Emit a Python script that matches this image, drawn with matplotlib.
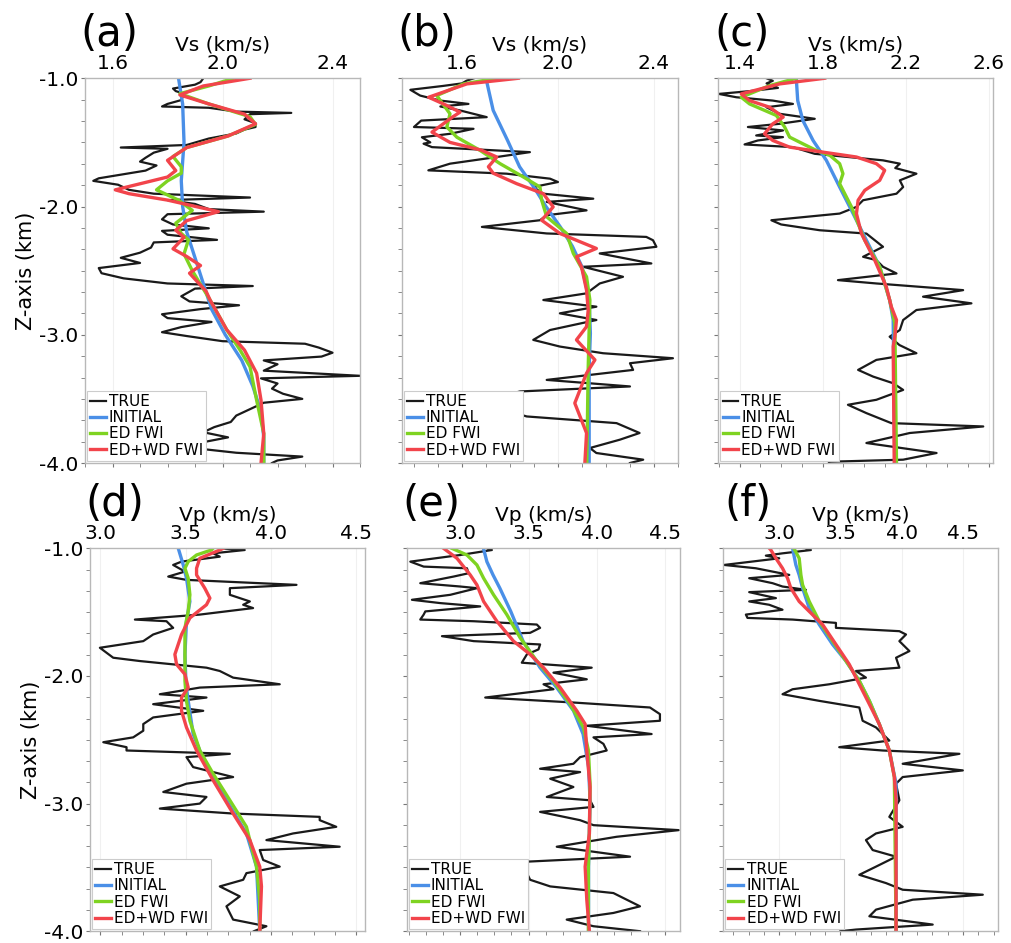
import matplotlib
matplotlib.use('Agg')
import matplotlib.pyplot as plt
from matplotlib.ticker import MultipleLocator, FormatStrFormatter

# (depth km, velocity km/s)
A_TRUE = [(-1.00, 1.93), (-1.03, 1.92), (-1.05, 1.90), (-1.08, 1.82), (-1.10, 1.83), (-1.12, 1.86), (-1.17, 1.85),
          (-1.20, 1.80), (-1.22, 1.78), (-1.23, 1.95), (-1.26, 2.05), (-1.27, 2.25), (-1.28, 2.10), (-1.32, 2.08),
          (-1.35, 2.12), (-1.38, 2.12), (-1.40, 2.08), (-1.43, 2.05), (-1.47, 1.95), (-1.52, 1.87), (-1.54, 1.63),
          (-1.55, 1.80), (-1.58, 1.75), (-1.62, 1.72), (-1.65, 1.70), (-1.68, 1.76), (-1.72, 1.72), (-1.78, 1.55),
          (-1.80, 1.53), (-1.83, 1.62), (-1.87, 1.66), (-1.90, 1.75), (-1.93, 2.10), (-1.95, 1.80), (-1.98, 1.90),
          (-2.02, 1.95), (-2.04, 2.15), (-2.06, 1.80), (-2.10, 1.78), (-2.14, 1.82), (-2.17, 1.95), (-2.19, 1.78),
          (-2.22, 1.80), (-2.26, 1.98), (-2.28, 1.75), (-2.32, 1.74), (-2.36, 1.70), (-2.40, 1.63), (-2.44, 1.70),
          (-2.48, 1.55), (-2.52, 1.56), (-2.56, 1.64), (-2.60, 1.80), (-2.62, 2.11), (-2.64, 1.90), (-2.70, 1.85),
          (-2.74, 1.88), (-2.77, 2.06), (-2.80, 1.92), (-2.84, 1.78), (-2.87, 1.80), (-2.90, 1.96), (-2.94, 1.85),
          (-2.98, 1.78), (-3.01, 1.87), (-3.05, 2.00), (-3.07, 2.30), (-3.10, 2.35), (-3.14, 2.40), (-3.17, 2.36),
          (-3.20, 2.15), (-3.23, 2.20), (-3.28, 2.15), (-3.32, 2.50), (-3.34, 2.14), (-3.38, 2.20), (-3.42, 2.18),
          (-3.46, 2.22), (-3.50, 2.29), (-3.53, 2.15), (-3.58, 2.10), (-3.63, 2.05), (-3.68, 2.03), (-3.72, 1.97),
          (-3.76, 1.93), (-3.80, 2.02), (-3.85, 1.90), (-3.88, 1.88), (-3.92, 2.05), (-3.95, 2.29), (-3.98, 2.20),
          (-4.00, 2.18)]
A_INIT = [(-1.0, 1.84), (-1.2, 1.855), (-1.5, 1.86), (-1.8, 1.85), (-2.0, 1.855), (-2.2, 1.87), (-2.4, 1.90),
          (-2.6, 1.93), (-2.8, 1.96), (-3.0, 2.01), (-3.2, 2.07), (-3.4, 2.11), (-3.6, 2.14), (-3.8, 2.15), (-4.0, 2.15)]
A_ED = [(-1.0, 2.04), (-1.06, 1.95), (-1.12, 1.845), (-1.20, 1.95), (-1.30, 2.10), (-1.36, 2.12), (-1.45, 2.02),
        (-1.54, 1.87), (-1.61, 1.82), (-1.69, 1.85), (-1.74, 1.85), (-1.80, 1.80), (-1.87, 1.76), (-1.95, 1.84),
        (-2.03, 1.89), (-2.13, 1.83), (-2.21, 1.85), (-2.26, 1.876), (-2.37, 1.86), (-2.50, 1.89), (-2.60, 1.918),
        (-2.73, 1.955), (-2.96, 2.015), (-3.12, 2.064), (-3.25, 2.10), (-3.51, 2.124), (-3.77, 2.15), (-4.0, 2.15)]
A_EDWD = [(-1.0, 2.10), (-1.06, 1.93), (-1.13, 1.845), (-1.20, 1.95), (-1.28, 2.08), (-1.355, 2.12), (-1.45, 2.02),
          (-1.54, 1.87), (-1.64, 1.80), (-1.72, 1.83), (-1.77, 1.80), (-1.87, 1.61), (-1.90, 1.66), (-1.95, 1.80),
          (-2.04, 1.985), (-2.11, 1.87), (-2.185, 1.83), (-2.24, 1.86), (-2.33, 1.82), (-2.39, 1.87), (-2.46, 1.92),
          (-2.52, 1.88), (-2.66, 1.94), (-2.73, 1.955), (-2.96, 2.015), (-3.12, 2.08), (-3.30, 2.124), (-3.51, 2.14),
          (-3.77, 2.15), (-4.0, 2.14)]

B_TRUE = [(-1.00, 1.65), (-1.018, 1.62), (-1.04, 1.60), (-1.06, 1.52), (-1.09, 1.385), (-1.135, 1.426), (-1.174, 1.51),
          (-1.20, 1.627), (-1.22, 1.51), (-1.25, 1.59), (-1.303, 1.703), (-1.33, 1.43), (-1.38, 1.40), (-1.394, 1.648),
          (-1.433, 1.55), (-1.46, 1.433), (-1.50, 1.468), (-1.51, 1.44), (-1.537, 1.475), (-1.576, 1.883),
          (-1.614, 1.745), (-1.666, 1.55), (-1.718, 1.46), (-1.744, 1.786), (-1.783, 1.967), (-1.809, 2.00),
          (-1.848, 1.897), (-1.90, 1.939), (-1.939, 2.147), (-1.964, 1.953), (-2.03, 2.119), (-2.068, 1.953),
          (-2.107, 1.925), (-2.159, 1.683), (-2.21, 1.953), (-2.237, 2.368), (-2.263, 2.396), (-2.314, 2.41),
          (-2.366, 2.174), (-2.444, 2.389), (-2.47, 2.105), (-2.548, 2.271), (-2.60, 2.174), (-2.677, 2.119),
          (-2.729, 1.939), (-2.781, 2.16), (-2.833, 2.008), (-2.885, 2.16), (-2.963, 1.967), (-3.04, 1.897),
          (-3.092, 2.008), (-3.144, 2.188), (-3.183, 2.479), (-3.222, 2.30), (-3.274, 2.313), (-3.352, 1.953),
          (-3.403, 2.30), (-3.442, 1.842), (-3.481, 1.759), (-3.533, 1.828), (-3.585, 1.773), (-3.637, 1.87),
          (-3.689, 2.244), (-3.766, 2.34), (-3.818, 2.258), (-3.883, 2.133), (-3.922, 2.16), (-3.974, 2.355),
          (-4.00, 2.30)]
B_INIT = [(-1.0, 1.70), (-1.25, 1.73), (-1.485, 1.79), (-1.69, 1.84), (-1.85, 1.90), (-2.00, 1.95), (-2.16, 2.01),
          (-2.31, 2.06), (-2.47, 2.10), (-2.73, 2.13), (-2.99, 2.135), (-3.25, 2.13), (-4.0, 2.13)]
B_ED = [(-1.0, 1.745), (-1.044, 1.606), (-1.135, 1.495), (-1.277, 1.55), (-1.38, 1.537), (-1.46, 1.579),
        (-1.563, 1.676), (-1.666, 1.759), (-1.77, 1.856), (-1.848, 1.925), (-1.95, 1.932), (-2.08, 1.953),
        (-2.21, 2.036), (-2.366, 2.064), (-2.548, 2.119), (-2.729, 2.133), (-3.25, 2.126), (-4.0, 2.12)]
B_EDWD = [(-1.0, 1.835), (-1.044, 1.62), (-1.148, 1.461), (-1.20, 1.523), (-1.264, 1.592), (-1.303, 1.56),
          (-1.42, 1.475), (-1.50, 1.55), (-1.56, 1.68), (-1.614, 1.745), (-1.69, 1.71), (-1.74, 1.73), (-1.822, 1.828),
          (-1.90, 1.939), (-2.003, 1.98), (-2.107, 1.932), (-2.21, 2.008), (-2.327, 2.16), (-2.392, 2.077),
          (-2.47, 2.098), (-2.652, 2.119), (-2.807, 2.126), (-2.937, 2.119), (-3.04, 2.077), (-3.196, 2.154),
          (-3.30, 2.119), (-3.533, 2.07), (-3.766, 2.119), (-4.0, 2.112)]

C_TRUE = [(-1.0, 1.53), (-1.02, 1.56), (-1.04, 1.53), (-1.075, 1.585), (-1.10, 1.45), (-1.122, 1.30), (-1.148, 1.384),
          (-1.174, 1.56), (-1.20, 1.657), (-1.226, 1.529), (-1.277, 1.593), (-1.316, 1.762), (-1.355, 1.593),
          (-1.38, 1.44), (-1.407, 1.609), (-1.446, 1.48), (-1.459, 1.609), (-1.485, 1.488), (-1.516, 1.424),
          (-1.537, 1.657), (-1.589, 1.762), (-1.64, 2.091), (-1.666, 2.172), (-1.70, 2.15), (-1.744, 2.252),
          (-1.796, 2.172), (-1.848, 2.188), (-1.90, 2.156), (-1.951, 1.995), (-2.003, 1.963), (-2.055, 1.882),
          (-2.107, 1.553), (-2.14, 1.60), (-2.185, 1.786), (-2.211, 2.011), (-2.314, 2.091), (-2.392, 1.995),
          (-2.418, 2.059), (-2.47, 2.091), (-2.522, 2.156), (-2.574, 1.874), (-2.60, 2.059), (-2.652, 2.477),
          (-2.703, 2.284), (-2.755, 2.517), (-2.807, 2.252), (-2.885, 2.188), (-2.963, 2.172), (-3.015, 2.123),
          (-3.08, 2.17), (-3.144, 2.252), (-3.196, 2.059), (-3.274, 1.971), (-3.326, 2.043), (-3.378, 2.14),
          (-3.43, 2.188), (-3.507, 2.059), (-3.546, 1.922), (-3.611, 2.011), (-3.689, 2.131), (-3.715, 2.574),
          (-3.766, 2.22), (-3.844, 2.011), (-3.922, 2.349), (-3.974, 2.188), (-3.99, 1.834), (-4.0, 1.83)]
C_INIT = [(-1.0, 1.673), (-1.174, 1.68), (-1.33, 1.705), (-1.485, 1.754), (-1.64, 1.818), (-1.848, 1.882),
          (-2.055, 1.947), (-2.263, 2.011), (-2.47, 2.075), (-2.729, 2.123), (-2.885, 2.14), (-4.0, 2.148)]
C_ED = [(-1.0, 1.673), (-1.057, 1.545), (-1.148, 1.408), (-1.20, 1.448), (-1.29, 1.577), (-1.38, 1.617),
        (-1.459, 1.641), (-1.511, 1.705), (-1.563, 1.77), (-1.60, 1.834), (-1.666, 1.882), (-1.744, 1.898),
        (-1.822, 1.882), (-2.003, 1.939), (-2.263, 2.003), (-2.47, 2.075), (-2.729, 2.123), (-2.911, 2.148),
        (-4.0, 2.156)]
C_EDWD = [(-1.0, 1.81), (-1.044, 1.593), (-1.122, 1.408), (-1.174, 1.448), (-1.226, 1.545), (-1.303, 1.61),
          (-1.355, 1.56), (-1.433, 1.52), (-1.485, 1.56), (-1.537, 1.641), (-1.576, 1.802), (-1.614, 1.963),
          (-1.666, 2.059), (-1.718, 2.099), (-1.796, 2.075), (-1.874, 2.003), (-1.951, 1.971), (-2.055, 1.963),
          (-2.211, 1.987), (-2.418, 2.051), (-2.626, 2.107), (-2.781, 2.131), (-2.885, 2.156), (-3.015, 2.148),
          (-3.092, 2.14), (-4.0, 2.145)]

D_TRUE = [(-1.0, 3.70), (-1.013, 3.846), (-1.039, 3.661), (-1.065, 3.70), (-1.104, 3.476), (-1.13, 3.427),
          (-1.182, 3.496), (-1.221, 3.398), (-1.247, 3.505), (-1.286, 4.149), (-1.312, 3.759), (-1.364, 3.759),
          (-1.416, 3.876), (-1.442, 3.837), (-1.468, 3.895), (-1.519, 3.583), (-1.558, 3.203), (-1.571, 3.388),
          (-1.623, 3.427), (-1.675, 3.31), (-1.727, 3.252), (-1.779, 2.998), (-1.857, 3.076), (-1.883, 3.232),
          (-1.935, 3.622), (-1.961, 3.70), (-2.013, 3.778), (-2.065, 4.051), (-2.091, 3.583), (-2.143, 3.349),
          (-2.169, 3.622), (-2.221, 3.31), (-2.273, 3.603), (-2.325, 3.31), (-2.377, 3.252), (-2.429, 3.252),
          (-2.481, 3.193), (-2.519, 3.018), (-2.558, 3.154), (-2.584, 3.154), (-2.61, 3.759), (-2.636, 3.505),
          (-2.714, 3.544), (-2.792, 3.778), (-2.844, 3.505), (-2.909, 3.369), (-2.948, 3.622), (-3.0, 3.583),
          (-3.039, 3.349), (-3.078, 3.778), (-3.104, 4.285), (-3.13, 4.285), (-3.182, 4.382), (-3.234, 4.129),
          (-3.286, 3.973), (-3.338, 4.402), (-3.364, 3.934), (-3.442, 3.954), (-3.494, 4.051), (-3.545, 3.856),
          (-3.597, 3.837), (-3.649, 3.70), (-3.727, 3.817), (-3.805, 3.739), (-3.909, 3.778), (-3.961, 3.973),
          (-4.0, 3.90)]
D_INIT = [(-1.0, 3.457), (-1.13, 3.486), (-1.234, 3.505), (-1.416, 3.525), (-1.571, 3.505), (-1.831, 3.496),
          (-2.065, 3.502), (-2.195, 3.515), (-2.455, 3.544), (-2.714, 3.622), (-2.974, 3.739), (-3.234, 3.856),
          (-3.494, 3.915), (-4.0, 3.934)]
D_ED = [(-1.0, 3.66), (-1.013, 3.651), (-1.052, 3.564), (-1.104, 3.515), (-1.156, 3.496), (-1.234, 3.515),
        (-1.364, 3.525), (-1.494, 3.515), (-1.623, 3.496), (-1.831, 3.496), (-2.039, 3.496), (-2.195, 3.505),
        (-2.351, 3.525), (-2.584, 3.583), (-2.766, 3.661), (-2.974, 3.759), (-3.182, 3.856), (-3.494, 3.915),
        (-3.753, 3.934), (-4.0, 3.934)]
D_EDWD = [(-1.0, 3.72), (-1.013, 3.70), (-1.078, 3.583), (-1.156, 3.564), (-1.208, 3.564), (-1.312, 3.612),
          (-1.39, 3.642), (-1.442, 3.622), (-1.545, 3.525), (-1.675, 3.476), (-1.831, 3.437), (-1.909, 3.447),
          (-1.987, 3.496), (-2.091, 3.515), (-2.169, 3.476), (-2.273, 3.476), (-2.403, 3.505), (-2.584, 3.564),
          (-2.818, 3.661), (-3.078, 3.778), (-3.286, 3.876), (-3.494, 3.934), (-3.649, 3.944), (-4.0, 3.934)]

E_TRUE = [(-1.0, 3.20), (-1.013, 3.232), (-1.052, 3.0), (-1.104, 2.634), (-1.143, 2.732), (-1.156, 3.049),
          (-1.195, 3.061), (-1.221, 2.951), (-1.273, 2.707), (-1.299, 3.0), (-1.312, 3.122), (-1.364, 2.927),
          (-1.403, 2.646), (-1.429, 2.854), (-1.455, 3.146), (-1.494, 2.744), (-1.519, 2.732), (-1.558, 2.707),
          (-1.571, 3.098), (-1.597, 3.561), (-1.623, 3.585), (-1.662, 3.512), (-1.688, 2.866), (-1.727, 3.098),
          (-1.753, 3.585), (-1.792, 3.573), (-1.831, 3.488), (-1.896, 3.451), (-1.935, 3.963), (-1.974, 3.683),
          (-2.026, 3.927), (-2.065, 3.61), (-2.104, 3.683), (-2.169, 3.183), (-2.208, 3.829), (-2.247, 4.39),
          (-2.299, 4.463), (-2.351, 4.463), (-2.39, 3.927), (-2.455, 4.402), (-2.481, 3.976), (-2.532, 4.049),
          (-2.584, 4.073), (-2.636, 3.878), (-2.688, 3.829), (-2.727, 3.585), (-2.753, 3.878), (-2.805, 3.659),
          (-2.87, 3.829), (-2.948, 3.634), (-2.974, 3.951), (-3.026, 3.976), (-3.065, 3.585), (-3.13, 3.878),
          (-3.169, 3.976), (-3.208, 4.60), (-3.26, 4.146), (-3.338, 3.707), (-3.416, 4.244), (-3.455, 3.488),
          (-3.494, 3.415), (-3.545, 3.488), (-3.597, 3.512), (-3.649, 3.659), (-3.701, 4.122), (-3.805, 4.317),
          (-3.857, 4.122), (-3.909, 3.78), (-3.961, 3.976), (-4.0, 4.317)]
E_INIT = [(-1.0, 3.17), (-1.104, 3.195), (-1.208, 3.24), (-1.312, 3.29), (-1.494, 3.37), (-1.727, 3.46),
          (-1.935, 3.585), (-2.091, 3.707), (-2.273, 3.83), (-2.455, 3.90), (-2.714, 3.94), (-2.974, 3.951),
          (-3.494, 3.94), (-4.0, 3.94)]
E_ED = [(-1.0, 2.939), (-1.052, 3.049), (-1.13, 3.122), (-1.234, 3.171), (-1.364, 3.244), (-1.519, 3.341),
        (-1.701, 3.439), (-1.883, 3.561), (-2.039, 3.683), (-2.221, 3.805), (-2.403, 3.902), (-2.584, 3.939),
        (-2.844, 3.951), (-3.234, 3.946), (-3.494, 3.939), (-4.0, 3.939)]
E_EDWD = [(-1.0, 2.878), (-1.078, 2.976), (-1.208, 3.073), (-1.286, 3.122), (-1.416, 3.171), (-1.571, 3.268),
          (-1.727, 3.39), (-1.831, 3.512), (-1.935, 3.61), (-2.091, 3.732), (-2.273, 3.854), (-2.377, 3.915),
          (-2.584, 3.927), (-2.87, 3.951), (-3.234, 3.946), (-3.494, 3.915), (-3.753, 3.927), (-4.0, 3.946)]

F_TRUE = [(-1.0, 3.22), (-1.013, 3.259), (-1.039, 3.027), (-1.057, 2.891), (-1.078, 3.0), (-1.13, 2.55),
          (-1.156, 2.809), (-1.208, 3.082), (-1.234, 2.755), (-1.273, 2.946), (-1.299, 3.027), (-1.325, 3.218),
          (-1.343, 2.755), (-1.39, 2.973), (-1.416, 2.755), (-1.442, 2.918), (-1.481, 3.027), (-1.519, 2.728),
          (-1.545, 2.741), (-1.558, 3.109), (-1.584, 3.463), (-1.623, 3.463), (-1.649, 3.981), (-1.675, 4.035),
          (-1.727, 3.981), (-1.805, 4.063), (-1.857, 3.954), (-1.935, 3.981), (-1.961, 3.627), (-2.013, 3.708),
          (-2.065, 3.409), (-2.104, 3.109), (-2.143, 3.027), (-2.195, 3.327), (-2.247, 3.654), (-2.351, 3.681),
          (-2.403, 3.79), (-2.455, 3.845), (-2.506, 3.899), (-2.558, 3.49), (-2.584, 3.845), (-2.61, 4.471),
          (-2.688, 4.008), (-2.74, 4.499), (-2.792, 4.008), (-2.844, 3.954), (-2.974, 3.981), (-3.104, 3.899),
          (-3.182, 4.008), (-3.234, 3.79), (-3.286, 3.708), (-3.364, 3.763), (-3.416, 3.954), (-3.494, 3.79),
          (-3.558, 3.654), (-3.623, 3.872), (-3.675, 4.008), (-3.714, 4.662), (-3.753, 4.09), (-3.831, 3.79),
          (-3.883, 3.736), (-3.948, 4.253), (-3.987, 3.627), (-4.0, 3.50)]
F_INIT = [(-1.0, 3.109), (-1.13, 3.136), (-1.208, 3.163), (-1.312, 3.191), (-1.468, 3.245), (-1.597, 3.327),
          (-1.753, 3.436), (-1.883, 3.545), (-2.039, 3.654), (-2.195, 3.736), (-2.377, 3.817), (-2.584, 3.899),
          (-2.844, 3.954), (-4.0, 3.954)]
F_ED = [(-1.0, 3.12), (-1.078, 3.163), (-1.208, 3.177), (-1.286, 3.191), (-1.416, 3.245), (-1.571, 3.327),
        (-1.727, 3.436), (-1.883, 3.545), (-2.039, 3.654), (-2.195, 3.736), (-2.377, 3.817), (-2.584, 3.899),
        (-2.792, 3.94), (-4.0, 3.954)]
F_EDWD = [(-1.0, 2.92), (-1.013, 2.932), (-1.078, 2.973), (-1.156, 3.027), (-1.234, 3.068), (-1.312, 3.095),
          (-1.416, 3.163), (-1.494, 3.245), (-1.597, 3.354), (-1.753, 3.463), (-1.909, 3.572), (-2.065, 3.654),
          (-2.221, 3.736), (-2.377, 3.817), (-2.584, 3.899), (-2.792, 3.94), (-2.974, 3.954), (-4.0, 3.954)]

LABELS = ['TRUE', 'INITIAL', 'ED FWI', 'ED+WD FWI']
COLORS = ['#1a1a1a', '#4a8fe7', '#7ed321', '#f2444b']
WIDTHS = [1.6, 2.4, 2.4, 2.4]

VS_TICKS = [1.6, 2.0, 2.4]
VS_TICKS_C = [1.4, 1.8, 2.2, 2.6]
VP_TICKS = [3.0, 3.5, 4.0, 4.5]

panels = [
    ('(a)', [A_TRUE, A_INIT, A_ED, A_EDWD], [0.0841, 0.509, 0.272, 0.408], (1.5, 2.5), VS_TICKS, 'Vs (km/s)', True),
    ('(b)', [B_TRUE, B_INIT, B_ED, B_EDWD], [0.3976, 0.509, 0.273, 0.408], (1.35, 2.5), VS_TICKS, 'Vs (km/s)', False),
    ('(c)', [C_TRUE, C_INIT, C_ED, C_EDWD], [0.710, 0.509, 0.272, 0.408], (1.295, 2.62), VS_TICKS_C, 'Vs (km/s)', False),
    ('(d)', [D_TRUE, D_INIT, D_ED, D_EDWD], [0.089, 0.0125, 0.272, 0.406], (2.94, 4.55), VP_TICKS, 'Vp (km/s)', True),
    ('(e)', [E_TRUE, E_INIT, E_ED, E_EDWD], [0.4026, 0.0125, 0.270, 0.406], (2.61, 4.61), VP_TICKS, 'Vp (km/s)', False),
    ('(f)', [F_TRUE, F_INIT, F_ED, F_EDWD], [0.715, 0.0125, 0.272, 0.406], (2.54, 4.785), VP_TICKS, 'Vp (km/s)', False),
]

plt.rcParams['font.family'] = 'DejaVu Sans'
plt.rcParams['axes.unicode_minus'] = False

fig = plt.figure(figsize=(10.11, 9.43), dpi=100)

for letter, curves, pos, xlim, xticks, xlabel, show_y in panels:
    ax = fig.add_axes(pos)
    for data, lab, col, lw in zip(curves, LABELS, COLORS, WIDTHS):
        z = [p[0] for p in data]
        v = [p[1] for p in data]
        ax.plot(v, z, color=col, lw=lw, label=lab, solid_joinstyle='round')
    ax.set_xlim(*xlim)
    ax.set_ylim(-4.0, -1.0)
    ax.set_xticks(xticks)
    ax.xaxis.set_major_formatter(FormatStrFormatter('%.1f'))
    ax.xaxis.set_minor_locator(MultipleLocator(0.1 if xlabel.startswith('Vs') else 0.125))
    ax.set_yticks([-1.0, -2.0, -3.0, -4.0])
    ax.yaxis.set_major_formatter(FormatStrFormatter('%.1f'))
    ax.yaxis.set_minor_locator(MultipleLocator(1 / 6))
    ax.tick_params(axis='x', which='both', top=False, bottom=True, labeltop=True, labelbottom=False,
                   direction='out', length=3, color='#777777', labelsize=14.5, pad=1)
    ax.tick_params(axis='y', which='both', direction='out', length=3, color='#777777',
                   labelsize=14.5, pad=2, labelleft=show_y)
    ax.xaxis.set_label_position('top')
    ax.set_xlabel(xlabel, fontsize=14.5, labelpad=2)
    if show_y:
        ax.set_ylabel('Z-axis (km)', fontsize=15, labelpad=2)
    ax.grid(True, axis='x', which='major', color='#f0f0f0', lw=0.8)
    for s in ax.spines.values():
        s.set_color('#b8b8b8')
        s.set_linewidth(1.0)
    ax.text(0.09, 1.115, letter, transform=ax.transAxes, fontsize=30, ha='center', va='center')
    leg = ax.legend(loc='lower left', fontsize=11, handlelength=1.0, handletextpad=0.2, borderpad=0.2,
                    labelspacing=0.08, borderaxespad=0.15, fancybox=False, framealpha=1)
    leg.get_frame().set_edgecolor('#cccccc')
    leg.get_frame().set_linewidth(0.8)

fig.savefig('out.png', dpi=100)
